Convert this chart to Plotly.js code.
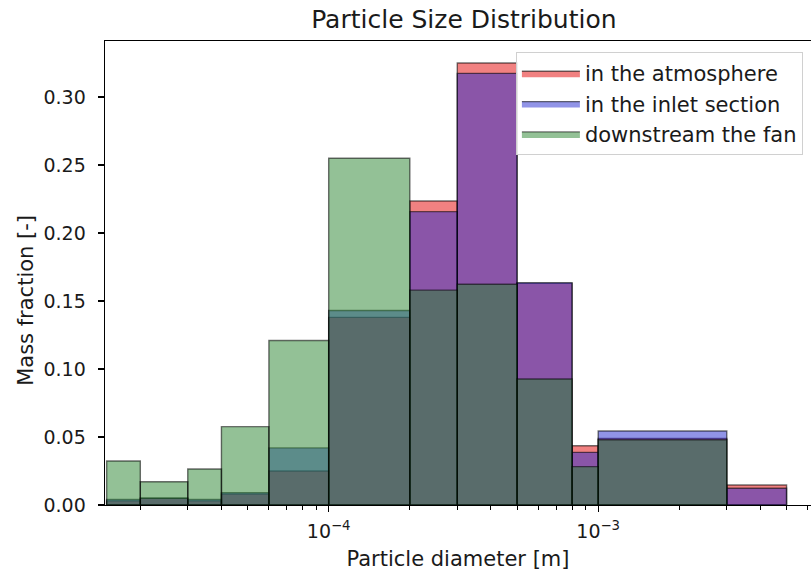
<!DOCTYPE html>
<html>
<head>
<meta charset="utf-8">
<script src="https://cdn.plot.ly/plotly-3.0.1.min.js"></script>
<style>html,body{margin:0;padding:0;overflow:hidden;background:#fff}</style>
</head>
<body>
<div id="chart" style="width:811px;height:573px"></div>
<script>
// Bin edges of the particle diameter histogram [m]
const binEdges = [1.5e-5, 2e-5, 3e-5, 4e-5, 6e-5, 1e-4, 2e-4, 3e-4, 5e-4, 8e-4, 1e-3, 3e-3, 5e-3];
// Mass fraction per bin
const atmosphere    = [0.003, 0.005, 0.003, 0.008, 0.025, 0.138, 0.2235, 0.325, 0.163, 0.0436, 0.049, 0.0147];
const inletSection  = [0.004, 0.005, 0.004, 0.009, 0.042, 0.143, 0.2157, 0.3174, 0.1635, 0.0387, 0.0544, 0.0123];
const downstreamFan = [0.0324, 0.0171, 0.0265, 0.0576, 0.121, 0.255, 0.158, 0.1623, 0.0926, 0.0282, 0.048, 0];
const seriesNames = ['in the atmosphere', 'in the inlet section', 'downstream the fan'];
const xTickVals = [1e-4, 1e-3];
const xTickText = ['10<sup>\u22124</sup>', '10<sup>\u22123</sup>'];
const yTickVals = [0, 0.05, 0.10, 0.15, 0.20, 0.25, 0.30];

const fills = ['rgba(228,4,4,0.5)', 'rgba(36,42,208,0.5)', 'rgba(40,132,45,0.5)'];

function rects(edges, vals) {
  const x = [], y = [];
  vals.forEach((v, i) => {
    if (v <= 0) return;
    x.push(edges[i], edges[i], edges[i + 1], edges[i + 1], edges[i], null);
    y.push(0, v, v, 0, 0, null);
  });
  return {x, y};
}

const data = [atmosphere, inletSection, downstreamFan].map((vals, k) => {
  const r = rects(binEdges, vals);
  return {
    type: 'scatter', mode: 'lines', x: r.x, y: r.y,
    fill: 'toself', fillcolor: fills[k],
    line: {color: 'rgba(0,0,0,0.55)', width: 1.4},
    name: seriesNames[k], legendgroup: 'g' + k,
    hoverinfo: 'skip'
  };
});

// minor ticks at 2..9 x 10^n
const minorVals = [];
for (let p = -5; p <= -3; p++) for (let m = 2; m <= 9; m++) minorVals.push(m * Math.pow(10, p));

const FAM = 'DejaVu Sans, sans-serif';
const TXT = '#1a1a1a';
const tickFont = {family: FAM, size: 19, color: TXT};
const labelFont = {family: FAM, size: 21, color: TXT};

const layout = {
  width: 811, height: 573,
  margin: {l: 105, r: 0, t: 41, b: 68},
  paper_bgcolor: '#fff', plot_bgcolor: '#fff',
  font: labelFont,
  showlegend: true,
  title: {text: 'Particle Size Distribution', font: {family: FAM, size: 25, color: TXT},
          xref: 'container', x: 0.572, xanchor: 'center', yref: 'container', y: 0.966, yanchor: 'middle'},
  xaxis: {
    type: 'log', range: [-4.83, -2.2104],
    tickmode: 'array', tickvals: xTickVals, ticktext: xTickText,
    ticks: 'outside', ticklen: 6, tickwidth: 1.2, tickcolor: '#000', ticklabelstandoff: 3,
    minor: {tickmode: 'array', tickvals: minorVals, ticks: 'outside', ticklen: 3.5, tickwidth: 1, tickcolor: '#000', showgrid: false},
    showgrid: false, zeroline: false, showline: true, linecolor: '#000', linewidth: 1.4, mirror: true,
    title: {text: 'Particle diameter [m]', font: labelFont, standoff: 10},
    tickfont: tickFont
  },
  yaxis: {
    range: [0, 0.3412],
    tickmode: 'array', tickvals: yTickVals, tickformat: '.2f',
    ticks: 'outside', ticklen: 6, tickwidth: 1.2, tickcolor: '#000', ticklabelstandoff: 8,
    showgrid: false, zeroline: false, showline: true, linecolor: '#000', linewidth: 1.4,
    tickfont: tickFont
  },
  annotations: [{
    text: 'Mass fraction [-]', textangle: -90, font: labelFont, showarrow: false,
    xref: 'paper', yref: 'paper', x: -0.112, y: 0.442, xanchor: 'center', yanchor: 'middle'
  }],
  legend: {
    x: 0.582, y: 0.976, xanchor: 'left', yanchor: 'top',
    bgcolor: 'rgba(255,255,255,0.85)', bordercolor: '#d0d0d0', borderwidth: 1,
    font: labelFont, tracegroupgap: 4, traceorder: 'normal', itemwidth: 58
  }
};

Plotly.newPlot('chart', data, layout, {displayModeBar: false, staticPlot: true});
</script>
</body>
</html>
